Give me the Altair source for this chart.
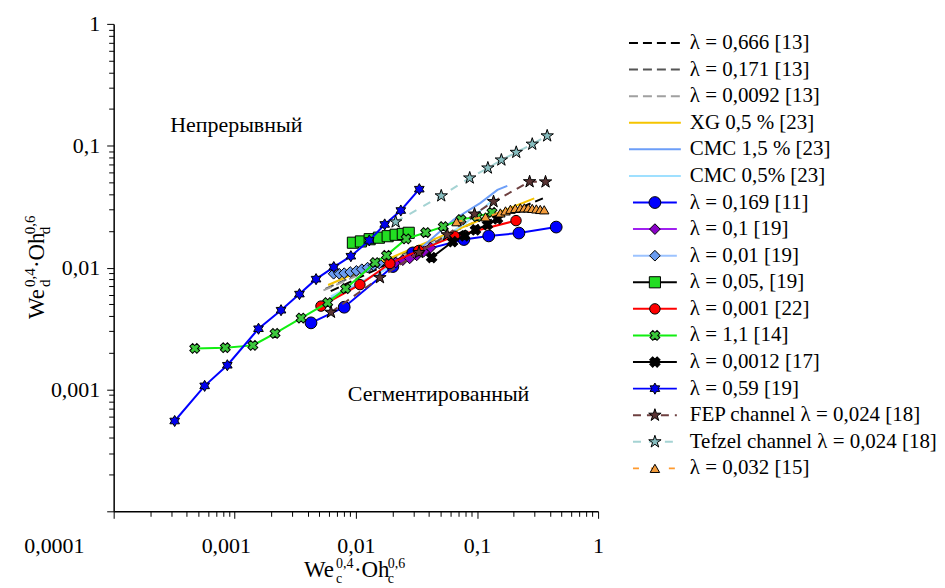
import altair as alt
import pandas as pd

FONT = "Liberation Serif"

# ---------------- data ----------------
# reference curves without markers
x_l0666 = [0.0062, 0.03, 0.1, 0.35]
y_l0666 = [0.0064, 0.0135, 0.022, 0.037]
x_l0171 = [0.0056, 0.03, 0.1, 0.2]
y_l0171 = [0.0067, 0.0142, 0.024, 0.031]
x_l0092 = [0.0054, 0.02, 0.06]
y_l0092 = [0.0065, 0.0115, 0.018]
x_xg = [0.0059, 0.03, 0.1, 0.297]
y_xg = [0.0072, 0.0145, 0.024, 0.037]
x_cmc15 = [0.0062, 0.03, 0.064, 0.107, 0.1475, 0.178]
y_cmc15 = [0.0056, 0.0128, 0.0247, 0.034, 0.0434, 0.0468]
x_cmc05 = [0.0062, 0.03, 0.08, 0.142]
y_cmc05 = [0.0058, 0.0125, 0.023, 0.0373]

# series with markers
x_0169 = [0.00426, 0.00801, 0.0202, 0.0295, 0.0779, 0.125, 0.222, 0.451]
y_0169 = [0.00352, 0.00473, 0.0102, 0.0132, 0.0170, 0.0182, 0.0192, 0.0215]
x_01 = [0.0213, 0.0244, 0.0278, 0.0318, 0.0363, 0.0414]
y_01 = [0.0110, 0.0115, 0.0119, 0.0126, 0.0135, 0.0146]
x_001 = [0.00655, 0.00729, 0.00801, 0.00898, 0.0101, 0.0112, 0.0125, 0.0140, 0.0156]
y_001 = [0.0089, 0.0089, 0.0090, 0.0092, 0.0094, 0.0097, 0.0100, 0.0104, 0.0108]
x_005 = [0.00945, 0.0110, 0.0130, 0.0155, 0.0183, 0.0213, 0.0244, 0.0273]
y_005 = [0.0160, 0.0164, 0.0171, 0.0176, 0.0181, 0.0186, 0.0189, 0.0193]
x_0001 = [0.00515, 0.0108, 0.0191, 0.0330, 0.0653, 0.210]
y_0001 = [0.00483, 0.00725, 0.0108, 0.0138, 0.0181, 0.0243]
x_11 = [0.000467, 0.000835, 0.00141, 0.00215, 0.00353, 0.00585, 0.00823, 0.0144,
        0.0179, 0.0260, 0.0377, 0.0527, 0.0738, 0.100, 0.133]
y_11 = [0.00217, 0.00220, 0.00230, 0.00288, 0.00385, 0.00516, 0.00672, 0.0110,
        0.0126, 0.0172, 0.0194, 0.0217, 0.0248, 0.0262, 0.0284]
x_00012 = [0.0422, 0.0629, 0.0789, 0.0972, 0.122, 0.1475]
y_00012 = [0.0121, 0.0163, 0.0182, 0.0204, 0.0225, 0.0251]
x_059 = [0.000319, 0.000564, 0.000868, 0.00157, 0.00241, 0.00342, 0.00469, 0.00657,
         0.00909, 0.0129, 0.0173, 0.0235, 0.0334]
y_059 = [0.000551, 0.00107, 0.00158, 0.00315, 0.00447, 0.00606, 0.00804, 0.0101,
         0.0124, 0.0167, 0.0226, 0.0294, 0.0440]
x_fep = [0.00623, 0.0158, 0.0332, 0.0568, 0.0954, 0.137, 0.272, 0.368]
y_fep = [0.00430, 0.00827, 0.0133, 0.0186, 0.0275, 0.0348, 0.0507, 0.0505]
x_tef = [0.0213, 0.0507, 0.0871, 0.123, 0.159, 0.211, 0.286, 0.380]
y_tef = [0.0237, 0.0388, 0.0544, 0.0657, 0.0764, 0.0883, 0.103, 0.1205]
x_032 = [0.0678, 0.1175, 0.156, 0.172, 0.189, 0.207, 0.228, 0.246, 0.265, 0.286,
         0.309, 0.333, 0.359]
y_032 = [0.0238, 0.0261, 0.0281, 0.0292, 0.0301, 0.0306, 0.0309, 0.0309, 0.0309,
         0.0306, 0.0303, 0.0300, 0.0298]

labels = ["λ = 0,666 [13]", "λ = 0,171 [13]", "λ = 0,0092 [13]", "XG 0,5 % [23]",
          "CMC 1,5 % [23]", "CMC 0,5% [23]", "λ = 0,169 [11]", "λ = 0,1 [19]",
          "λ = 0,01 [19]", "λ = 0,05, [19]", "λ = 0,001 [22]", "λ = 1,1 [14]",
          "λ = 0,0012 [17]", "λ = 0,59 [19]", "FEP channel λ = 0,024 [18]",
          "Tefzel channel λ = 0,024 [18]", "λ = 0,032 [15]"]

region_text = ["Непрерывный", "Сегментированный"]
region_x = [0.00103, 0.0482]
region_y = [0.1476, 0.000912]

# ---------------- styles ----------------
STAR = ("M0,-1L0.225,-0.309L0.951,-0.309L0.363,0.118L0.588,0.809L0,0.382"
        "L-0.588,0.809L-0.363,0.118L-0.951,-0.309L-0.225,-0.309Z")
HEXA = ("M0,-1L0.289,-0.5L0.866,-0.5L0.577,0L0.866,0.5L0.289,0.5L0,1"
        "L-0.289,0.5L-0.866,0.5L-0.577,0L-0.866,-0.5L-0.289,-0.5Z")

series = [
    dict(x=x_l0666, y=y_l0666, color="#000000", dash=[9, 5], shape=None),
    dict(x=x_l0171, y=y_l0171, color="#555555", dash=[9, 5], shape=None),
    dict(x=x_l0092, y=y_l0092, color="#A0A0A0", dash=[9, 5], shape=None),
    dict(x=x_xg, y=y_xg, color="#F5C400", dash=None, shape=None),
    dict(x=x_cmc15, y=y_cmc15, color="#6C9EF8", dash=None, shape=None),
    dict(x=x_cmc05, y=y_cmc05, color="#9FE0FF", dash=None, shape=None),
    dict(x=x_0169, y=y_0169, color="#0000FF", dash=None, shape="circle", fill="#0000FF", size=140, angle=0),
    dict(x=x_01, y=y_01, color="#A020F0", dash=None, shape="diamond", fill="#8A00C8", size=115, angle=0),
    dict(x=x_001, y=y_001, color="#9CC3FF", dash=None, shape="diamond", fill="#6A9CF0", size=115, angle=0),
    dict(x=x_005, y=y_005, color="#000000", dash=None, shape="square", fill="#22DD22", size=125, angle=0),
    dict(x=x_0001, y=y_0001, color="#FF0000", dash=None, shape="circle", fill="#FF0000", size=110, angle=0),
    dict(x=x_11, y=y_11, color="#11EE11", dash=None, shape="cross", fill="#3CC83C", size=100, angle=45),
    dict(x=x_00012, y=y_00012, color="#000000", dash=None, shape="cross", fill="#000000", size=110, angle=45),
    dict(x=x_059, y=y_059, color="#0000FF", dash=None, shape=HEXA, fill="#0000EE", size=125, angle=0),
    dict(x=x_fep, y=y_fep, color="#6E4040", dash=[8, 6], shape=STAR, fill="#5A3434", size=170, angle=0),
    dict(x=x_tef, y=y_tef, color="#A5D3D3", dash=[8, 8], shape=STAR, fill="#86BDBF", size=170, angle=0),
    dict(x=x_032, y=y_032, color="#FF9A2E", dash=[6, 12], shape="triangle-up", fill="#F39C3C", size=90, angle=0),
]

# ---------------- main plot ----------------
W, H = 486, 489
ticks = sorted({round(m * 10.0 ** e, 10) for e in range(-4, 1) for m in range(1, 10) if m * 10.0 ** e <= 1.0000001})
is_major = "abs(log(datum.value)/LN10 - round(log(datum.value)/LN10)) < 0.01"
fmt = "replace(format(datum.value, '~g'), '.', ',')"

xscale = alt.Scale(type="log", domain=[1e-4, 1], nice=False)
yscale = alt.Scale(type="log", domain=[1e-4, 1], nice=False)
common_axis = dict(values=ticks, title=None, grid=False, domainColor="black", domainWidth=1.5,
                   tickColor="black", tickWidth=1,
                   tickSize={"condition": {"test": is_major, "value": 7}, "value": 5},
                   labelFont=FONT, labelFontSize=22, labelColor="black",
                   labelOverlap=False, labelFlush=False)
xaxis = alt.Axis(labelExpr=f"{is_major} ? {fmt} : ''", labelPadding=17,
                 labelOffset={"condition": [{"test": "datum.value < 0.00011", "value": -60},
                                            {"test": "abs(datum.value - 0.001) < 0.000001", "value": -9}],
                              "value": 0},
                 **common_axis)
yaxis = alt.Axis(labelExpr=f"({is_major}) && datum.value > 0.00011 ? {fmt} : ''", labelPadding=7,
                 **common_axis)

layers = []
for s in series:
    d = pd.DataFrame({"x": s["x"], "y": s["y"], "i": list(range(len(s["x"])))})
    base = alt.Chart(d).encode(
        x=alt.X("x:Q", scale=xscale, axis=xaxis),
        y=alt.Y("y:Q", scale=yscale, axis=yaxis),
        order="i:Q",
    )
    lk = dict(color=s["color"], strokeWidth=2)
    if s["dash"]:
        lk["strokeDash"] = s["dash"]
    layers.append(base.mark_line(**lk))
    if s["shape"]:
        layers.append(base.mark_point(shape=s["shape"], filled=True, color=s["fill"], stroke="black",
                                      strokeWidth=1, size=s["size"], opacity=1, angle=s["angle"]))

reg = pd.DataFrame({"x": region_x, "y": region_y, "t": region_text})
layers.append(alt.Chart(reg).mark_text(font=FONT, fontSize=22, color="black").encode(
    x=alt.X("x:Q", scale=xscale, axis=xaxis), y=alt.Y("y:Q", scale=yscale, axis=yaxis), text="t:N"))

def piece(txt, px, py, size, angle=0):
    return alt.Chart(alt.Data(values=[{}])).mark_text(
        text=txt, align="left", baseline="alphabetic", font=FONT, fontSize=size,
        color="black", angle=angle).encode(x=alt.value(px), y=alt.value(py))

# x-axis title  We_c^0,4 · Oh_c^0,6
xb, yb = 191, 555
layers += [piece("We", xb, yb, 23), piece("0,4", xb + 32, yb - 9, 14), piece("c", xb + 32, yb + 6, 14),
           piece("·Oh", xb + 50, yb, 23), piece("0,6", xb + 84, yb - 9, 14), piece("c", xb + 84, yb + 6, 14)]
# y-axis title (rotated)
bx, by = -70, 296
layers += [piece("We", bx, by, 23, 270), piece("0,4", bx - 9, by - 32, 15, 270), piece("d", bx + 6, by - 32, 15, 270),
           piece("·Oh", bx, by - 51, 23, 270), piece("0,6", bx - 9, by - 85, 15, 270), piece("d", bx + 6, by - 85, 15, 270)]

main = alt.layer(*layers).properties(width=W, height=H)

# ---------------- legend panel ----------------
LW = 300
lxs = alt.Scale(domain=[0, LW], nice=False, zero=False)
lys = alt.Scale(domain=[-0.72, 17.615], reverse=True, nice=False, zero=False)
leg_layers = []
for i, s in enumerate(series):
    if s["shape"]:
        x0, x1 = 5, 49
    else:
        x0, x1 = 1, 53
    d = pd.DataFrame({"lx": [x0, x1], "ly": [i, i]})
    lk = dict(color=s["color"], strokeWidth=2)
    if s["dash"]:
        lk["strokeDash"] = s["dash"]
    leg_layers.append(alt.Chart(d).mark_line(**lk).encode(
        x=alt.X("lx:Q", scale=lxs, axis=None), y=alt.Y("ly:Q", scale=lys, axis=None)))
    if s["shape"]:
        dm = pd.DataFrame({"lx": [27], "ly": [i]})
        leg_layers.append(alt.Chart(dm).mark_point(
            shape=s["shape"], filled=True, color=s["fill"], stroke="black", strokeWidth=1,
            size=s["size"], opacity=1, angle=s["angle"]).encode(
            x=alt.X("lx:Q", scale=lxs, axis=None), y=alt.Y("ly:Q", scale=lys, axis=None)))
dt = pd.DataFrame({"lx": [62] * len(labels), "ly": list(range(len(labels))), "t": labels})
leg_layers.append(alt.Chart(dt).mark_text(align="left", baseline="middle", font=FONT, fontSize=21,
                                          color="black").encode(
    x=alt.X("lx:Q", scale=lxs, axis=None), y=alt.Y("ly:Q", scale=lys, axis=None), text="t:N"))
legend = alt.layer(*leg_layers).properties(width=LW, height=H)

chart = alt.hconcat(main, legend, spacing=21).properties(
    padding={"left": 15, "top": 4, "right": 0, "bottom": 0}
).configure_view(stroke=None)

chart.save("out.html", embed_options={"renderer": "svg", "actions": False})
